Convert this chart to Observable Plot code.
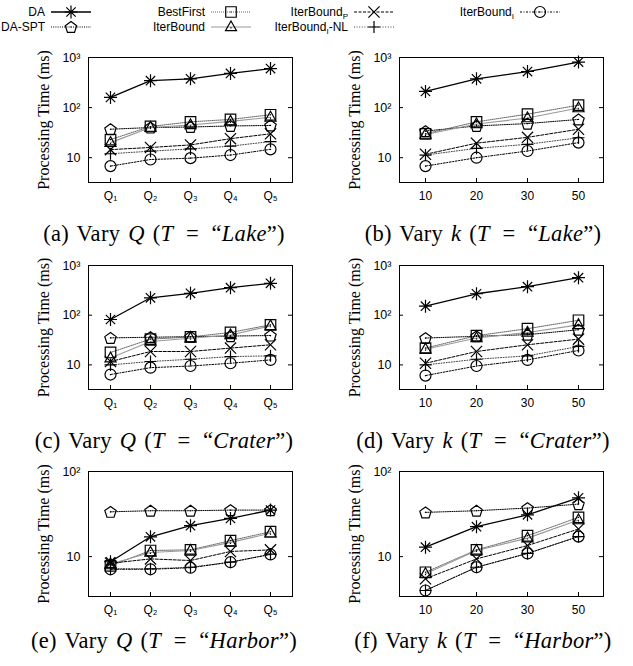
<!DOCTYPE html>
<html><head><meta charset="utf-8">
<script src="https://cdn.jsdelivr.net/npm/d3@7"></script>
<script src="https://cdn.jsdelivr.net/npm/@observablehq/plot@0.6"></script>
<style>
body{margin:0;background:#fff;}
#root{position:relative;width:633px;height:666px;overflow:hidden;background:#fff;}
.panel{position:absolute;}
.cap{position:absolute;font-family:"Liberation Serif","Times New Roman",serif;font-size:22.5px;line-height:24px;white-space:nowrap;transform:translateX(-50%);color:#000;word-spacing:2px;letter-spacing:0.3px;}
</style></head><body><div id="root"></div>
<script>
// ---------- data ----------
const seriesNames = ["DA","DA-SPT","BestFirst","IterBound","IterBoundP","IterBoundI-NL","IterBoundI"];
const queryCats = ["Q1","Q2","Q3","Q4","Q5"];
const kCats = ["10","20","30","50"];
const yTicksBig = [10, 100, 1000];
const yTicksSmall = [10, 100];

// rows follow seriesNames order
const lakeVaryQ = [
  [160, 345, 375, 480, 600],
  [37, 40, 41, 43, 44],
  [23, 42, 52, 58, 72],
  [20, 40, 45, 53, 64],
  [14.5, 16, 18, 24, 30],
  [12, 13.5, 15, 17, 21],
  [6.8, 9.2, 9.8, 11.3, 14.7]
];
const lakeVaryK = [
  [210, 375, 525, 810],
  [34, 43, 48, 58],
  [30, 52, 74, 112],
  [29, 47, 62, 98],
  [11.7, 19.5, 25.5, 37],
  [11.3, 15.4, 18.5, 25],
  [6.8, 10, 13.6, 20]
];
const craterVaryQ = [
  [82, 224, 275, 358, 438],
  [35, 36, 37, 38, 39],
  [17.8, 33, 36.5, 45, 64],
  [13.7, 29.5, 34.5, 40, 61],
  [11.7, 18.6, 18.6, 21.8, 25.4],
  [10, 11.7, 13, 14.7, 15.2],
  [6.4, 8.8, 9.5, 10.8, 12.6]
];
const craterVaryK = [
  [152, 270, 375, 570],
  [34.7, 37.6, 40.6, 51],
  [21.8, 38.7, 53.5, 79],
  [20.7, 34.7, 45, 64],
  [10.8, 18.6, 25.4, 33],
  [10, 13, 15.2, 23.5],
  [6.1, 9.5, 12.6, 19.5]
];
const harborVaryQ = [
  [8.7, 17.1, 23.1, 28.1, 35.2],
  [33.6, 34.6, 34.6, 35.2, 35.2],
  [7.8, 11.8, 12, 15.4, 19.6],
  [8.2, 11.2, 11.8, 14.7, 18.8],
  [8.35, 9.4, 9.0, 11.5, 12],
  [7.2, 7.2, 7.5, 8.6, 10.7],
  [7.1, 7.1, 7.4, 8.6, 10.6]
];
const harborVaryK = [
  [12.9, 22.5, 31, 49],
  [33.1, 34.6, 37.2, 41.4],
  [6.55, 12, 17.6, 28.9],
  [6.3, 11.8, 16.5, 26.9],
  [5.5, 9.4, 13.5, 21.1],
  [4.0, 7.5, 10.9, 17.2],
  [4.0, 7.5, 10.9, 17.2]
];

// ---------- symbols ----------
const R = s => Math.sqrt(s / Math.PI);
const symAsterisk = {draw(c, s){const r=R(s), d=r*0.72;
  c.moveTo(-r,0);c.lineTo(r,0);c.moveTo(0,-r);c.lineTo(0,r);
  c.moveTo(-d,-d);c.lineTo(d,d);c.moveTo(-d,d);c.lineTo(d,-d);}};
const symPentagon = {draw(c, s){const r=R(s);
  for(let i=0;i<5;i++){const a=-Math.PI/2+i*2*Math.PI/5;const x=r*Math.cos(a),y=r*Math.sin(a)+r*0.1;
    if(i===0)c.moveTo(x,y);else c.lineTo(x,y);} c.closePath();
  c.moveTo(-0.6,0);c.lineTo(0.6,0);}};
const symSquare = {draw(c, s){const r=R(s)*0.85;
  c.moveTo(-r,-r);c.lineTo(r,-r);c.lineTo(r,r);c.lineTo(-r,r);c.closePath();
  c.moveTo(-0.6,0);c.lineTo(0.6,0);}};
const symTriangle = {draw(c, s){const r=R(s);
  c.moveTo(0,-r);c.lineTo(r*0.92,r*0.62);c.lineTo(-r*0.92,r*0.62);c.closePath();
  c.moveTo(-0.6,r*0.15);c.lineTo(0.6,r*0.15);}};
const symTimes = {draw(c, s){const r=R(s)*0.8;
  c.moveTo(-r,-r);c.lineTo(r,r);c.moveTo(-r,r);c.lineTo(r,-r);}};
const symPlus = {draw(c, s){const r=R(s);
  c.moveTo(-r,0);c.lineTo(r,0);c.moveTo(0,-r);c.lineTo(0,r);}};
const symCircle = {draw(c, s){const r=R(s);
  c.moveTo(r,0);c.arc(0,0,r,0,2*Math.PI);
  c.moveTo(-0.6,0);c.lineTo(0.6,0);}};

const styles = [
  {width:1.3, dash:null, symbol:symAsterisk, r:6.5, lineStroke:"#000"},
  {width:1, dash:"1,1.2", symbol:symPentagon, r:6, lineStroke:"#000"},
  {width:1, dash:"1,1", symbol:symSquare, r:6.2, lineStroke:"#666"},
  {width:1.1, dash:null, symbol:symTriangle, r:6, lineStroke:"#999"},
  {width:1, dash:"3,1.5", symbol:symTimes, r:7, lineStroke:"#000"},
  {width:1, dash:"1,1.6", symbol:symPlus, r:6, lineStroke:"#444"},
  {width:1, dash:"2,1.5,1,1.5", symbol:symCircle, r:5.5, lineStroke:"#000"}
];

const sansFont = '"Liberation Sans", Arial, Helvetica, sans-serif';
const serifFont = '"Liberation Serif", "Times New Roman", serif';
const sub = {"1":"₁","2":"₂","3":"₃","4":"₄","5":"₅"};
const fmtX = d => d.startsWith("Q") ? "Q" + sub[d.slice(1)] : d;
const fmtY = d => d === 10 ? "10" : d === 100 ? "10²" : "10³";

const root = document.getElementById("root");

function makePanel({cats, rows, yDomain, yTicks, left, top, frameH, caption, capX, capY}) {
  const data = [];
  seriesNames.forEach((s, i) => cats.forEach((c, j) => data.push({series: s, cat: c, value: rows[i][j]})));
  const W = 316, mL = 88, mR = 24, mT = 12, mB = 26;
  const frameW = W - mL - mR;
  const marks = [
    Plot.frame({stroke: "#000", strokeWidth: 1}),
    Plot.axisX({tickSize: 0, tickPadding: 9, fontSize: 12, fontFamily: sansFont, tickFormat: fmtX, label: null}),
    Plot.axisY(yTicks, {tickSize: 0, tickPadding: 8, fontSize: 12.5, fontFamily: sansFont, tickFormat: fmtY, label: null}),
    Plot.axisY([], {tickSize: 0, label: "Processing Time (ms)", labelAnchor: "center", labelArrow: "none", labelOffset: 51, fontFamily: serifFont, fontSize: 16}),
    Plot.tickX(cats, {x: d => d, insetTop: frameH - 4, stroke: "#000"}),
    Plot.tickY(yTicks, {y: d => d, insetRight: frameW - 4, stroke: "#000"}),
    Plot.tickY(yTicks, {y: d => d, insetLeft: frameW - 4, stroke: "#000"})
  ];
  seriesNames.forEach((s, i) => {
    const st = styles[i];
    const sd = data.filter(d => d.series === s);
    marks.push(Plot.line(sd, {x: "cat", y: "value", stroke: st.lineStroke, strokeWidth: st.width, strokeDasharray: st.dash}));
  });
  seriesNames.forEach((s, i) => {
    const st = styles[i];
    const sd = data.filter(d => d.series === s);
    marks.push(Plot.dot(sd, {x: "cat", y: "value", symbol: st.symbol, r: st.r, stroke: "#000", fill: "none", strokeWidth: 1.2}));
  });
  const svg = Plot.plot({
    width: W, height: mT + frameH + mB,
    marginLeft: mL, marginRight: mR, marginTop: mT, marginBottom: mB,
    x: {type: "point", domain: cats, padding: 0.5},
    y: {type: "log", domain: yDomain},
    style: {background: "transparent", color: "#000", overflow: "visible"},
    marks
  });
  svg.classList.add("panel");
  svg.style.left = left + "px";
  svg.style.top = top + "px";
  root.appendChild(svg);
  const cap = document.createElement("div");
  cap.className = "cap";
  cap.innerHTML = caption;
  cap.style.left = capX + "px";
  cap.style.top = (capY - 12) + "px";
  root.appendChild(cap);
}

const eq = '&#8201;&#8196;=&#8196;&#8201;';
const bigDomain = [3.2, 1000];
const smallDomain = [3.4, 100];
makePanel({cats: queryCats, rows: lakeVaryQ, yDomain: bigDomain, yTicks: yTicksBig, left: 0, top: 45, frameH: 125,
  caption: `(a) Vary <i>Q</i> (<i>T</i>${eq}“<i>Lake</i>”)`, capX: 164, capY: 234});
makePanel({cats: kCats, rows: lakeVaryK, yDomain: bigDomain, yTicks: yTicksBig, left: 311, top: 45, frameH: 125,
  caption: `(b) Vary <i>k</i> (<i>T</i>${eq}“<i>Lake</i>”)`, capX: 483, capY: 234});
makePanel({cats: queryCats, rows: craterVaryQ, yDomain: bigDomain, yTicks: yTicksBig, left: 0, top: 253, frameH: 124,
  caption: `(c) Vary <i>Q</i> (<i>T</i>${eq}“<i>Crater</i>”)`, capX: 164, capY: 441});
makePanel({cats: kCats, rows: craterVaryK, yDomain: bigDomain, yTicks: yTicksBig, left: 311, top: 253, frameH: 124,
  caption: `(d) Vary <i>k</i> (<i>T</i>${eq}“<i>Crater</i>”)`, capX: 483, capY: 441});
makePanel({cats: queryCats, rows: harborVaryQ, yDomain: smallDomain, yTicks: yTicksSmall, left: 0, top: 459, frameH: 125,
  caption: `(e) Vary <i>Q</i> (<i>T</i>${eq}“<i>Harbor</i>”)`, capX: 164, capY: 641});
makePanel({cats: kCats, rows: harborVaryK, yDomain: smallDomain, yTicks: yTicksSmall, left: 311, top: 459, frameH: 125,
  caption: `(f) Vary <i>k</i> (<i>T</i>${eq}“<i>Harbor</i>”)`, capX: 483, capY: 641});

// ---------- legend ----------
const legendLabels = [["DA"],["DA-SPT"],["BestFirst"],["IterBound"],["IterBound","P"],["IterBound","I","-NL"],["IterBound","I"]];
const legendSlots = [[0,0],[0,1],[1,0],[1,1],[2,0],[2,1],[3,0]];
const colMarker = [71, 231, 374, 540];
const rowY = [12, 27];
const leg = d3.create("svg").attr("width", 633).attr("height", 40)
  .attr("class", "panel").style("left", "0px").style("top", "0px");
seriesNames.forEach((s, i) => {
  const [c, r] = legendSlots[i];
  const st = styles[i];
  const y = rowY[r];
  const mx = colMarker[c];
  const t = leg.append("text").attr("x", mx - 26).attr("y", y).attr("dy", "0.35em")
    .attr("text-anchor", "end").attr("font-family", sansFont).attr("font-size", 12).attr("fill", "#000");
  const parts = legendLabels[i];
  t.append("tspan").text(parts[0]);
  if (parts[1]) t.append("tspan").attr("dy", 3).attr("font-size", 8).text(parts[1]);
  if (parts[2]) t.append("tspan").attr("dy", -3).text(parts[2]);
  leg.append("line").attr("x1", mx - 20).attr("x2", mx + 20).attr("y1", y).attr("y2", y)
    .attr("stroke", st.lineStroke).attr("stroke-width", st.width).attr("stroke-dasharray", st.dash);
  leg.append("path").attr("transform", `translate(${mx},${y})`)
    .attr("d", d3.symbol(st.symbol, st.r * st.r * Math.PI)())
    .attr("fill", "none").attr("stroke", "#000").attr("stroke-width", 1.2);
});
root.appendChild(leg.node());
</script>
</body></html>
